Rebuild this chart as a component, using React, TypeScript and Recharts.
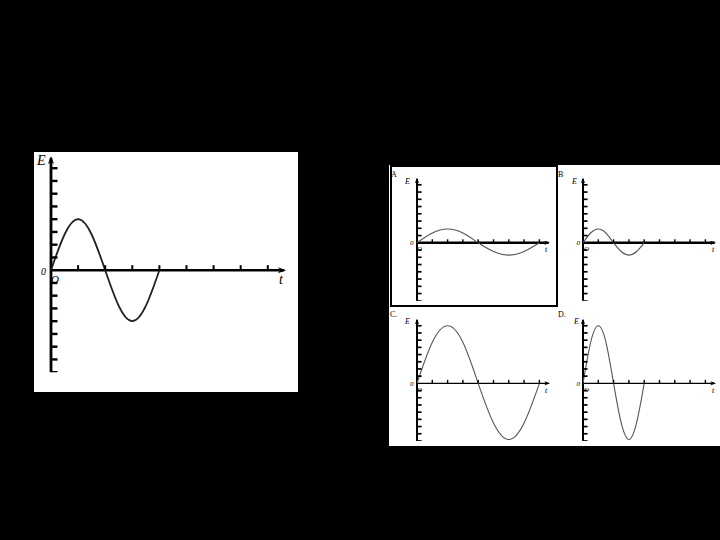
import { ComposedChart, Line, Scatter, XAxis, YAxis, ReferenceLine, ReferenceDot } from 'recharts'

// tick positions along the axes (in grid units)
const X_TICKS = [1, 2, 3, 4, 5, 6, 7, 8]
const Y_TICKS = [-8, -7, -6, -5, -4, -3, -2, -1, 1, 2, 3, 4, 5, 6, 7, 8]

const X_DOMAIN: [number, number] = [0, 8.6]
const Y_DOMAIN: [number, number] = [-8, 8.8]

// time samples
const T_SHORT = [0, 0.5, 1, 1.5, 2, 2.5, 3, 3.5, 4]
const T_LONG = [0, 1, 2, 3, 4, 5, 6, 7, 8]

// emf values
const E_MAIN = [0, 2.8, 4, 2.8, 0, -2.8, -4, -2.8, 0]
const E_A = [0, 1.35, 1.9, 1.35, 0, -1.2, -1.7, -1.2, 0]
const E_B = [0, 1.35, 1.9, 1.35, 0, -1.2, -1.7, -1.2, 0]
const E_C = [0, 5.7, 8, 5.7, 0, -5.5, -7.8, -5.5, 0]
const E_D = [0, 5.7, 8, 5.7, 0, -5.5, -7.8, -5.5, 0]

interface PanelProps {
  ox: number
  oy: number
  ux: number
  uy: number
  t: number[]
  e: number[]
  s: number
  xw: number
  yw: number
  curveColor: string
  curveWidth: number
}

function Panel({ ox, oy, ux, uy, t, e, s, xw, yw, curveColor, curveWidth }: PanelProps) {
  const pad = 10
  const w = (X_DOMAIN[1] - X_DOMAIN[0]) * ux
  const h = (Y_DOMAIN[1] - Y_DOMAIN[0]) * uy
  const curve = t.map((x, i) => ({ x, y: e[i] }))
  const xTicks = X_TICKS.map(x => ({ x, y: 0 }))
  const yTicks = Y_TICKS.map(y => ({ x: 0, y }))

  return (
    <div style={{ position: 'absolute', left: ox - pad, top: oy - Y_DOMAIN[1] * uy - pad }}>
      <ComposedChart
        width={w + pad * 2}
        height={h + pad * 2}
        margin={{ left: pad, top: pad, right: pad, bottom: pad }}
      >
        <XAxis type="number" dataKey="x" domain={X_DOMAIN} allowDataOverflow hide />
        <YAxis type="number" dataKey="y" domain={Y_DOMAIN} allowDataOverflow hide />
        <ReferenceLine y={0} stroke="#000" strokeWidth={xw} />
        <ReferenceLine x={0} stroke="#000" strokeWidth={yw} />
        <ReferenceDot
          x={X_DOMAIN[1]}
          y={0}
          ifOverflow="visible"
          shape={(p: any) => (
            <path
              d={`M${p.cx + 2 * s},${p.cy} L${p.cx - 6 * s},${p.cy - 3 * s} L${p.cx - 4 * s},${p.cy} L${p.cx - 6 * s},${p.cy + 3 * s} Z`}
              fill="#000"
            />
          )}
        />
        <ReferenceDot
          x={0}
          y={Y_DOMAIN[1]}
          ifOverflow="visible"
          shape={(p: any) => (
            <path
              d={`M${p.cx},${p.cy - 2 * s} L${p.cx - 3 * s},${p.cy + 6 * s} L${p.cx},${p.cy + 4 * s} L${p.cx + 3 * s},${p.cy + 6 * s} Z`}
              fill="#000"
            />
          )}
        />
        <Scatter
          data={xTicks}
          dataKey="y"
          isAnimationActive={false}
          shape={(p: any) => <rect x={p.cx - s} y={p.cy - 5 * s} width={2 * s} height={5 * s} fill="#000" />}
        />
        <Scatter
          data={yTicks}
          dataKey="y"
          isAnimationActive={false}
          shape={(p: any) => <rect x={p.cx} y={p.cy - 1.2 * s} width={6.5 * s} height={2.4 * s} fill="#000" />}
        />
        <Line
          data={curve}
          dataKey="y"
          type="natural"
          dot={false}
          stroke={curveColor}
          strokeWidth={curveWidth}
          isAnimationActive={false}
        />
      </ComposedChart>
    </div>
  )
}

const serif = "'Liberation Serif', 'DejaVu Serif', serif"

export default function App() {
  return (
    <div
      style={{
        position: 'absolute',
        left: 0,
        top: 0,
        width: 720,
        height: 540,
        background: '#000',
        overflow: 'hidden',
        fontFamily: serif,
      }}
    >
      <div style={{ position: 'absolute', left: 34, top: 152, width: 264, height: 240, background: '#fff' }} />
      <div style={{ position: 'absolute', left: 389, top: 165, width: 331, height: 281, background: '#fff' }} />
      <div
        style={{
          position: 'absolute',
          left: 390,
          top: 165,
          width: 168,
          height: 142,
          border: '2px solid #000',
          boxSizing: 'border-box',
        }}
      />

      <Panel ox={51} oy={270} ux={27.1} uy={12.75} t={T_SHORT} e={E_MAIN} s={1} xw={2.5} yw={2.8} curveColor="#222" curveWidth={1.8} />
      <Panel ox={417} oy={243} ux={15.3} uy={7.25} t={T_LONG} e={E_A} s={0.7} xw={2.4} yw={2} curveColor="#555" curveWidth={1.1} />
      <Panel ox={583.3} oy={243} ux={15.3} uy={7.25} t={T_SHORT} e={E_B} s={0.7} xw={2.4} yw={2} curveColor="#555" curveWidth={1.1} />
      <Panel ox={417} oy={383.3} ux={15.3} uy={7.2} t={T_LONG} e={E_C} s={0.7} xw={1.2} yw={2} curveColor="#555" curveWidth={1.1} />
      <Panel ox={583.3} oy={383.3} ux={15.3} uy={7.2} t={T_SHORT} e={E_D} s={0.7} xw={1.2} yw={2} curveColor="#555" curveWidth={1.1} />

      <svg width={720} height={540} style={{ position: 'absolute', left: 0, top: 0, pointerEvents: 'none' }}>
        <g fontFamily={serif} fill="#000">
          <text x={37} y={165} fontSize={14} fontStyle="italic">E</text>
          <text x={41} y={275} fontSize={10} fontStyle="italic">0</text>
          <text x={51} y={283} fontSize={11} fontStyle="italic">O</text>
          <text x={279} y={284} fontSize={14} fontStyle="italic">t</text>

          <text x={391} y={176.5} fontSize={8}>A</text>
          <text x={405} y={183.5} fontSize={8} fontStyle="italic">E</text>
          <text x={410} y={245} fontSize={7} fontStyle="italic">0</text>
          <text x={417} y={251} fontSize={7} fontStyle="italic">O</text>
          <text x={545} y={252} fontSize={8} fontStyle="italic">t</text>

          <text x={558} y={177} fontSize={8}>B</text>
          <text x={572} y={183.5} fontSize={8} fontStyle="italic">E</text>
          <text x={576.5} y={245} fontSize={7} fontStyle="italic">0</text>
          <text x={584} y={251} fontSize={7} fontStyle="italic">O</text>
          <text x={712} y={252} fontSize={8} fontStyle="italic">t</text>

          <text x={390} y={317} fontSize={8}>C.</text>
          <text x={405} y={324} fontSize={8} fontStyle="italic">E</text>
          <text x={410} y={386} fontSize={7} fontStyle="italic">0</text>
          <text x={417} y={392} fontSize={7} fontStyle="italic">O</text>
          <text x={545} y={392.5} fontSize={8} fontStyle="italic">t</text>

          <text x={558} y={317} fontSize={8}>D.</text>
          <text x={574} y={324} fontSize={8} fontStyle="italic">E</text>
          <text x={576.5} y={386} fontSize={7} fontStyle="italic">0</text>
          <text x={584} y={392} fontSize={7} fontStyle="italic">O</text>
          <text x={712} y={392.5} fontSize={8} fontStyle="italic">t</text>
        </g>
      </svg>
    </div>
  )
}
